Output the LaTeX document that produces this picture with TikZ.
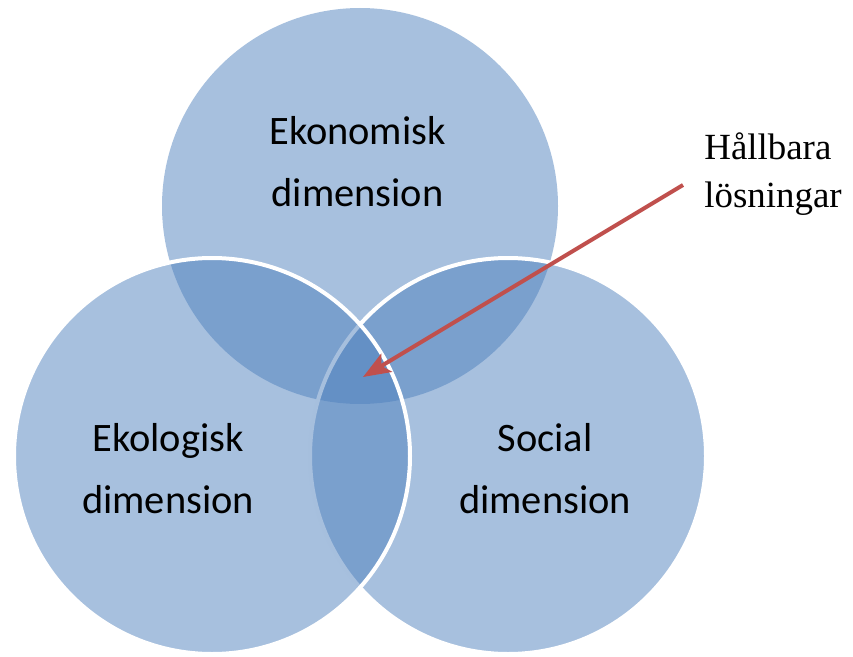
\documentclass[tikz,border=0pt]{standalone}
\usepackage{fontspec}
\setmainfont{Liberation Serif}
\newfontfamily\calfont{Carlito}
\usetikzlibrary{arrows.meta}
\definecolor{offblue}{RGB}{79,129,189}
\definecolor{offred}{RGB}{192,80,77}
\begin{document}
\begin{tikzpicture}[
  dim/.style={circle,fill=offblue,fill opacity=0.5,draw=white,
              line width=0.08cm,minimum size=7.92cm,inner sep=0pt},
  dimlabel/.style={align=center,inner sep=0pt,
                   font=\calfont\fontsize{23}{35.3}\selectfont},
  pointer/.style={draw=offred,line width=0.08cm,
                  -{Stealth[length=0.55cm,width=0.42cm,inset=0.12cm]}}]
\path[use as bounding box] (0,0) rectangle (17.06,13.12);
\node[dim,draw=none] (eko) at (7.2,9.0) {};
\node[dim] (soc) at (10.16,4.0) {};
\node[dim] (ekol) at (4.24,4.0) {};
\node[dimlabel] (ekotxt) at (7.15,9.88) {Ekonomisk\\dimension};
\node[dimlabel] (ekoltxt) at (3.36,3.75) {Ekologisk\\dimension};
\node[dimlabel] (soctxt) at (10.9,3.75) {Social\\dimension};
\node[align=left,inner sep=0pt,anchor=north west,
      font=\fontsize{21}{27.8}\selectfont] (hl) at (14.08,10.48) {Hållbara\\lösningar};
\coordinate (tail) at (13.66,9.42);
\coordinate (core) at (7.26,5.58);
\draw[pointer] (tail) -- (core);
\end{tikzpicture}
\end{document}
